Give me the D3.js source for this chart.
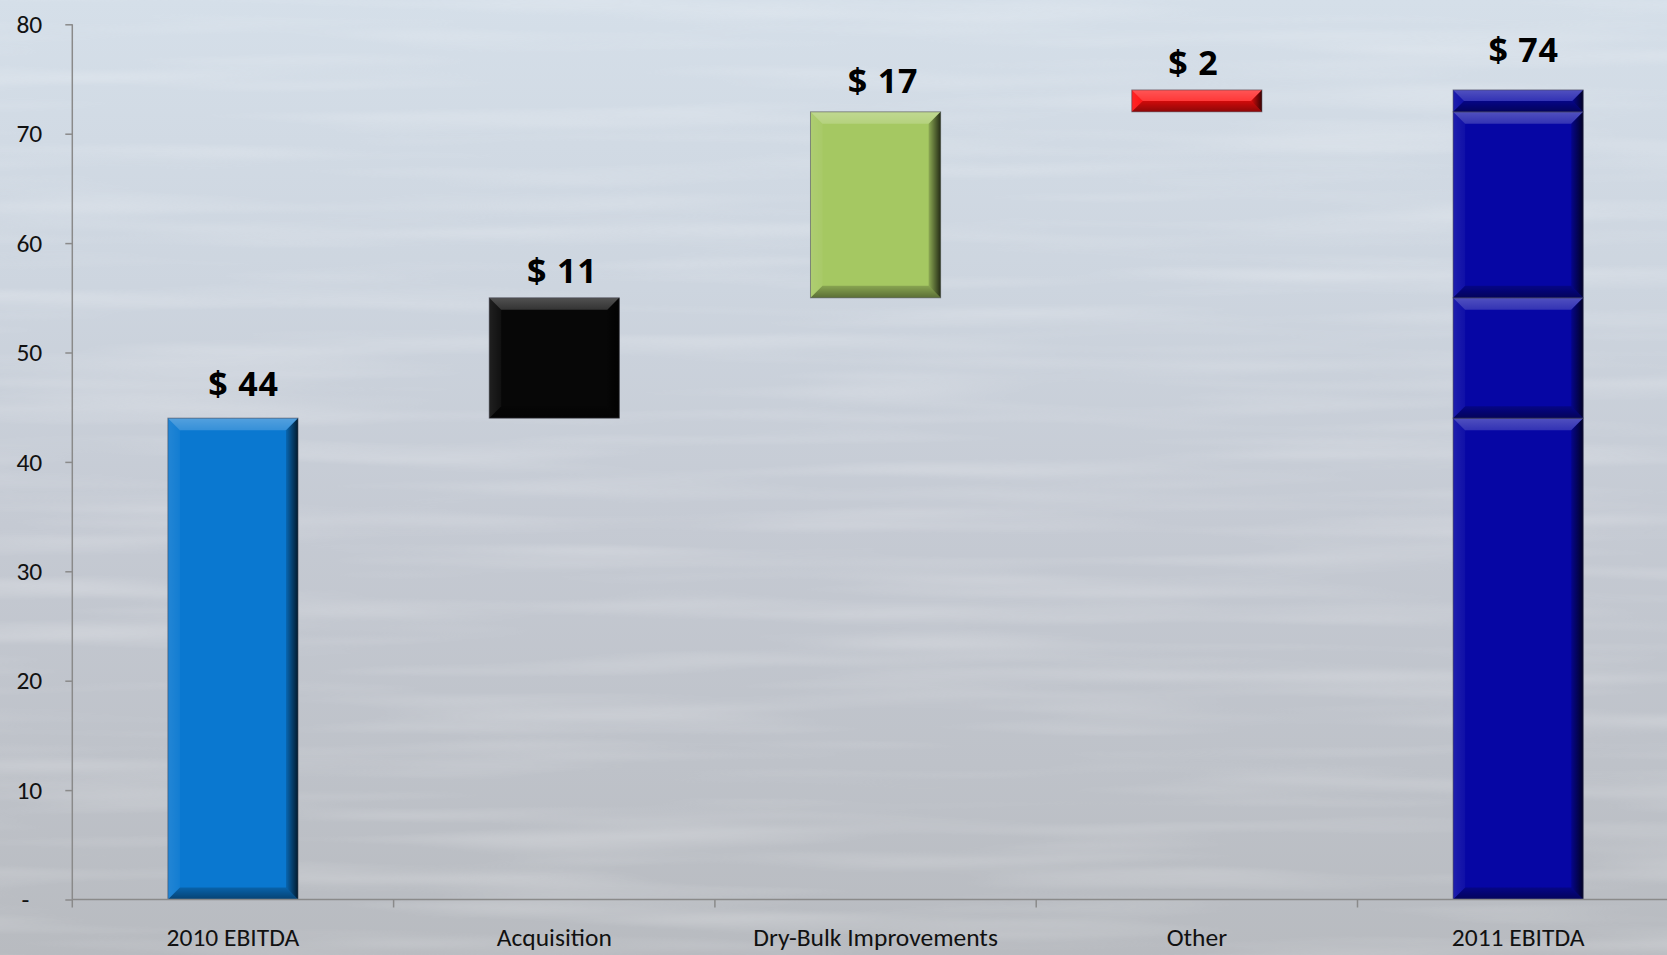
<!DOCTYPE html>
<html>
<head>
<meta charset="utf-8">
<script src="https://cdn.jsdelivr.net/npm/d3@7"></script>
<style>
  html, body { margin: 0; padding: 0; overflow: hidden; background: #c8ced6; }
  svg { display: block; }
  .tick text { font-family: Calibri, Carlito, Lato, sans-serif; fill: #111; }
</style>
</head>
<body>
<svg id="chart" width="1667" height="955"></svg>
<script>
// EBITDA bridge, 2010 -> 2011 ($ millions)
const categories = ["2010 EBITDA", "Acquisition", "Dry-Bulk Improvements", "Other", "2011 EBITDA"];
const stepValues = [44, 11, 17, 2];          // starting EBITDA followed by each increment
const totalValue = 74;                         // 2011 EBITDA
const yTicks = [0, 10, 20, 30, 40, 50, 60, 70, 80];
const yTickLabels = ["-", "10", "20", "30", "40", "50", "60", "70", "80"];

// styling
const barColors = ["#0a78d0", "#070707", "#a5c862", "#ff0d0d", "#0606a4"];
const labelDx = [10.5, 8, 7.5, -3.5, 5.5];     // fine nudges for the value labels
const labelGap = [22, 15, 19, 15, 28];

const W = 1667, H = 955;
const plot = { left: 72.3, right: 1678.8, top: 24.3, bottom: 899.5 };

const svg = d3.select("#chart");
const defs = svg.append("defs");

// background: pale sky-grey gradient with faint water ripples
const bg = defs.append("linearGradient").attr("id", "bg").attr("x1", 0).attr("y1", 0).attr("x2", 0).attr("y2", 1);
[[0, "#d5dfe9"], [0.3, "#cdd5df"], [0.55, "#c5cad3"], [0.8, "#bec2c9"], [1, "#b8bbc0"]]
  .forEach(([o, c]) => bg.append("stop").attr("offset", o).attr("stop-color", c));

const rip = defs.append("filter").attr("id", "ripple").attr("x", 0).attr("y", 0).attr("width", 1).attr("height", 1);
rip.append("feTurbulence").attr("type", "fractalNoise").attr("baseFrequency", "0.0025 0.045")
  .attr("numOctaves", 2).attr("seed", 7).attr("result", "n");
rip.append("feColorMatrix").attr("in", "n").attr("type", "matrix")
  .attr("values", "0 0 0 0 1  0 0 0 0 1  0 0 0 0 1  0 1.4 0 0 -0.62");

svg.append("rect").attr("width", W).attr("height", H).attr("fill", "url(#bg)");
svg.append("rect").attr("width", W).attr("height", H).attr("filter", "url(#ripple)").attr("opacity", 0.35);

// bevel overlays
function grad(id, x2, y2, stops) {
  const g = defs.append("linearGradient").attr("id", id)
    .attr("x1", 0).attr("y1", 0).attr("x2", x2).attr("y2", y2);
  stops.forEach(([o, c, a]) => g.append("stop").attr("offset", o).attr("stop-color", c).attr("stop-opacity", a));
}
grad("bvTop", 0, 1, [[0, "#fff", 0.30], [1, "#fff", 0.18]]);
grad("bvBottom", 0, 1, [[0, "#000", 0.18], [1, "#000", 0.45]]);
grad("bvRight", 1, 0, [[0, "#000", 0.15], [1, "#000", 0.78]]);
grad("bvLeft", 1, 0, [[0, "#fff", 0.10], [1, "#fff", 0.04]]);

const x = d3.scaleBand().domain(categories).range([plot.left, plot.right])
  .paddingInner(0.595).paddingOuter(0.2975);
const y = d3.scaleLinear().domain([0, 80]).range([plot.bottom, plot.top]);

// waterfall segments
const segments = [];
let run = 0;
stepValues.forEach((v, i) => {
  segments.push({ cat: categories[i], y0: run, y1: run + v, color: barColors[i] });
  run += v;
});
// closing bar built up from the same pieces
let acc = 0;
stepValues.forEach(v => {
  segments.push({ cat: categories[4], y0: acc, y1: acc + v, color: barColors[4] });
  acc += v;
});

const bars = svg.append("g");
segments.forEach(s => {
  const x0 = x(s.cat), w = x.bandwidth();
  const top = y(s.y1), h = y(s.y0) - y(s.y1);
  const b = Math.min(12, h / 2, w / 2);
  const g = bars.append("g");
  g.append("rect").attr("x", x0).attr("y", top).attr("width", w).attr("height", h).attr("fill", s.color);
  const pts = {
    bvTop: [[x0, top], [x0 + w, top], [x0 + w - b, top + b], [x0 + b, top + b]],
    bvBottom: [[x0 + b, top + h - b], [x0 + w - b, top + h - b], [x0 + w, top + h], [x0, top + h]],
    bvLeft: [[x0, top], [x0 + b, top + b], [x0 + b, top + h - b], [x0, top + h]],
    bvRight: [[x0 + w - b, top + b], [x0 + w, top], [x0 + w, top + h], [x0 + w - b, top + h - b]]
  };
  Object.entries(pts).forEach(([id, p]) => {
    g.append("polygon").attr("points", p.map(d => d.join(",")).join(" ")).attr("fill", `url(#${id})`);
  });
  g.append("rect").attr("x", x0).attr("y", top).attr("width", w).attr("height", h)
    .attr("fill", "none").attr("stroke", "rgba(70,70,80,0.55)").attr("stroke-width", 1);
});

// axes
const axisColor = "#8a8a8a";
const yAxis = svg.append("g").attr("transform", `translate(${plot.left},0)`)
  .call(d3.axisLeft(y).tickValues(yTicks).tickSize(7).tickPadding(23)
    .tickFormat((d, i) => yTickLabels[i]));
yAxis.select(".domain").remove();
yAxis.selectAll(".tick line").attr("stroke", axisColor).attr("stroke-width", 1.5);
yAxis.selectAll(".tick text").attr("font-size", 25.5);
yAxis.selectAll(".tick").filter(d => d === 0).select("text").attr("dx", -13);
svg.append("line").attr("x1", plot.left).attr("x2", plot.left)
  .attr("y1", plot.top).attr("y2", plot.bottom + 8)
  .attr("stroke", axisColor).attr("stroke-width", 1.5);

const xAxis = svg.append("g").attr("transform", `translate(0,${plot.bottom})`)
  .call(d3.axisBottom(x).tickSize(0).tickPadding(28));
xAxis.select(".domain").remove();
xAxis.selectAll(".tick text").attr("font-size", 25.5);
svg.append("line").attr("x1", plot.left).attr("x2", plot.right)
  .attr("y1", plot.bottom).attr("y2", plot.bottom)
  .attr("stroke", axisColor).attr("stroke-width", 1.5);
d3.range(1, categories.length).forEach(i => {
  const bx = plot.left + x.step() * i;
  svg.append("line").attr("x1", bx).attr("x2", bx).attr("y1", plot.bottom).attr("y2", plot.bottom + 8)
    .attr("stroke", axisColor).attr("stroke-width", 1.5);
});

// value labels
const labelValues = stepValues.concat([totalValue]);
const labelTops = [];
run = 0;
stepValues.forEach(v => { run += v; labelTops.push(run); });
labelTops.push(totalValue);
svg.append("g").selectAll("text").data(categories).join("text")
  .attr("x", (d, i) => x(d) + x.bandwidth() / 2 + labelDx[i])
  .attr("y", (d, i) => y(labelTops[i]) - labelGap[i])
  .attr("text-anchor", "middle")
  .attr("font-family", "'Open Sans', sans-serif")
  .attr("font-weight", 700).attr("font-size", 34).attr("letter-spacing", 0.8).attr("fill", "#000")
  .attr("xml:space", "preserve")
  .text((d, i) => "$ " + d3.format(",")(labelValues[i]));
</script>
</body>
</html>
